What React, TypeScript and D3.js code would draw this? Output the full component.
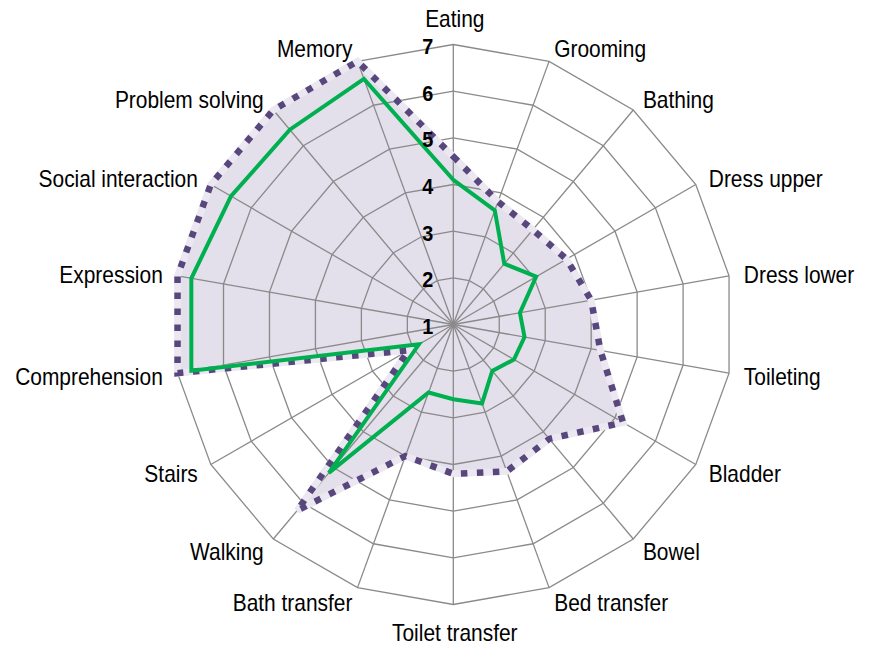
import React from "react";
import * as d3 from "d3";

const categories = [
  "Eating", "Grooming", "Bathing", "Dress upper", "Dress lower", "Toileting",
  "Bladder", "Bowel", "Bed transfer", "Toilet transfer", "Bath transfer",
  "Walking", "Stairs", "Comprehension", "Expression", "Social interaction",
  "Problem solving", "Memory",
];

const dottedSeries = [
  4.6, 3.8, 3.65, 3.8, 4.0, 4.2, 5.2, 4.2, 4.35, 4.2, 4.0, 6.2, 2.1, 7, 7, 7, 7, 7,
];

const greenSeries = [
  4.1, 3.6, 2.7, 3.05, 2.45, 2.55, 2.5, 2.3, 2.8, 2.6, 2.55, 5.15, 1.85, 6.7, 6.7, 6.5, 6.45, 6.6,
];

const tickValues = [1, 2, 3, 4, 5, 6, 7];

const W = 873;
const H = 647;
const cx = 453.3;
const cy = 324.5;
const R = 280;

export default function App() {
  const n = categories.length;
  const r = d3.scaleLinear().domain([1, 7]).range([0, R]);
  const angle = (i: number) => (i * 2 * Math.PI) / n;

  const radial = d3
    .lineRadial<number>()
    .angle((_, i) => angle(i))
    .radius((v) => r(v))
    .curve(d3.curveLinearClosed);

  const ringPath = (t: number) =>
    d3
      .lineRadial<number>()
      .angle((_, i) => angle(i))
      .radius(() => r(t))
      .curve(d3.curveLinearClosed)(categories.map(() => t)) as string;

  const fontFamily = "'Liberation Sans', Arial, Helvetica, sans-serif";
  const fs = 23;
  const capH = 0.716 * fs;
  const sx = 0.91;

  return (
    <svg
      width={W}
      height={H}
      style={{ position: "absolute", left: 0, top: 0, background: "#fff" }}
    >
      <g transform={`translate(${cx},${cy})`}>
        <path d={radial(dottedSeries) as string} fill="#e3dfeb" stroke="none" />

        {tickValues
          .filter((t) => t > 1)
          .map((t) => (
            <path key={t} d={ringPath(t)} fill="none" stroke="#8a8a8a" strokeWidth={1.3} />
          ))}
        {categories.map((c, i) => {
          const a = angle(i);
          return (
            <line
              key={c}
              x1={0}
              y1={0}
              x2={R * Math.sin(a)}
              y2={-R * Math.cos(a)}
              stroke="#8a8a8a"
              strokeWidth={1.3}
            />
          );
        })}

        <path
          d={radial(dottedSeries) as string}
          fill="none"
          stroke="#ece8f1"
          strokeWidth={7}
          strokeLinejoin="miter"
        />
        <path
          d={radial(dottedSeries) as string}
          fill="none"
          stroke="#58477d"
          strokeWidth={6.5}
          strokeDasharray="6.5 9.5"
          strokeLinejoin="miter"
        />

        <path
          d={radial(greenSeries) as string}
          fill="none"
          stroke="#00b050"
          strokeWidth={4}
          strokeLinejoin="miter"
        />

        {tickValues.map((t) => {
          const y = -r(t) + 0.716 * 22 / 2 + 1.5;
          return (
            <text
              key={t}
              transform={`translate(-20,${y}) scale(0.9,1)`}
              textAnchor="end"
              fontFamily={fontFamily}
              fontWeight="bold"
              fontSize={22}
              fill="#000"
            >
              {t}
            </text>
          );
        })}

        {categories.map((c, i) => {
          const a = angle(i);
          const s = Math.sin(a);
          const co = Math.cos(a);
          const vx = R * s;
          const vy = -R * co;
          const d = 15;
          let x = vx + d * s;
          let midY = vy - d * co;
          let anchor: "start" | "middle" | "end" = "middle";
          if (s > 0.1) anchor = "start";
          else if (s < -0.1) anchor = "end";
          else {
            midY -= 12 * co;
            x = vx + 1.5;
          }
          const y = midY + capH / 2 + 1.5;
          return (
            <text
              key={c}
              transform={`translate(${x},${y}) scale(${sx},1)`}
              textAnchor={anchor}
              fontFamily={fontFamily}
              fontSize={fs}
              fill="#000"
            >
              {c}
            </text>
          );
        })}
      </g>
    </svg>
  );
}
